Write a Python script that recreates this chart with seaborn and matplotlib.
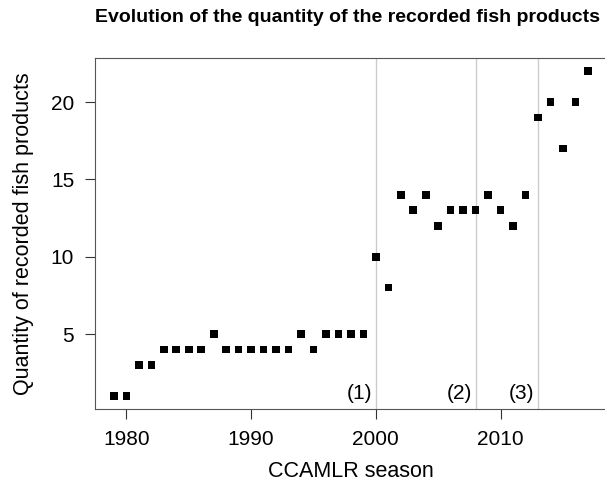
import matplotlib
matplotlib.use("Agg")
import matplotlib.pyplot as plt
import seaborn as sns
import pandas as pd

seasons = list(range(1979, 2018))
quantities = [1, 1, 3, 3, 4, 4, 4, 4, 5, 4, 4, 4, 4, 4, 4, 5, 4, 5, 5, 5, 5,
              10, 8, 14, 13, 14, 12, 13, 13, 13, 14, 13, 12, 14,
              19, 20, 17, 20, 22]
event_years = [2000, 2008, 2013]
event_labels = ["(1)", "(2)", "(3)"]

df = pd.DataFrame({"season": seasons, "quantity": quantities})

sns.set_style("white")
plt.rcParams["font.family"] = ["Liberation Sans", "DejaVu Sans"]
plt.rcParams["text.color"] = "black"
plt.rcParams["axes.labelcolor"] = "black"

fig = plt.figure(figsize=(6.05, 4.88), dpi=100)
ax = fig.add_axes([0.157, 0.162, 0.846, 0.719])

for yr, lab in zip(event_years, event_labels):
    ax.axvline(yr, color="#cccccc", lw=1, zorder=0)
    ax.text(yr - 0.3, 0.55, lab, ha="right", va="bottom", fontsize=15)

sns.scatterplot(data=df, x="season", y="quantity", marker="s", color="black",
                s=30, edgecolor="none", ax=ax, zorder=3)

ax.set_xlim(1977.48, 2018.52)
ax.set_ylim(0.16, 22.84)
ax.set_xticks([1980, 1990, 2000, 2010])
ax.set_yticks([5, 10, 15, 20])
ax.tick_params(axis="both", direction="out", length=7, width=0.8, color="#333333",
               labelsize=15, labelcolor="black", bottom=True, left=True, pad=8)
ax.spines["right"].set_visible(False)
for side in ["left", "bottom", "top"]:
    ax.spines[side].set_color("#555555")
    ax.spines[side].set_linewidth(0.8)
ax.set_xlabel("CCAMLR season", fontsize=15.5, labelpad=9)
ax.set_ylabel("Quantity of recorded fish products", fontsize=15.5, labelpad=12)
fig.suptitle("Evolution of the quantity of the recorded fish products",
             x=0.574, y=0.982, fontsize=14, fontweight="bold", va="top")

fig.savefig("out.png", dpi=100)
